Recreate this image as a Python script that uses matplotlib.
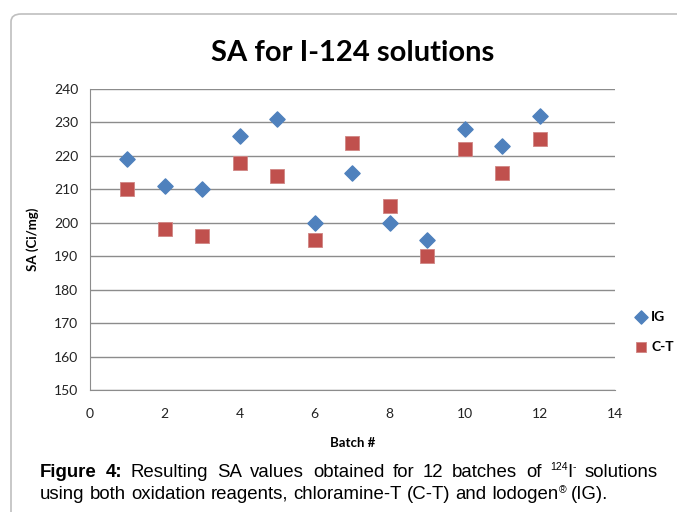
import matplotlib.pyplot as plt
from matplotlib.patches import FancyBboxPatch

# Datos
batch = [1, 2, 3, 4, 5, 6, 7, 8, 9, 10, 11, 12]
sa_ig = [219, 211, 210, 226, 231, 200, 215, 200, 195, 228, 223, 232]
sa_ct = [210, 198, 196, 218, 214, 195, 224, 205, 190, 222, 215, 225]
x_ticks = [0, 2, 4, 6, 8, 10, 12, 14]
y_ticks = list(range(150, 250, 10))

blue = '#4F81BD'
red = '#C0504D'
grid_col = '#8C8C8C'

plt.rcParams['font.family'] = ['Lato', 'DejaVu Sans']

fig = plt.figure(figsize=(6.77, 5.12), dpi=100)

# Marco del grafico (esquinas redondeadas, se sale por derecha y abajo)
frame = FancyBboxPatch((11 / 677, -0.05), 1.0, (512 - 14) / 512 + 0.05,
                       boxstyle='round,pad=0,rounding_size=0.015',
                       transform=fig.transFigure, facecolor='none',
                       edgecolor='#BFBFBF', linewidth=1.2)
fig.patches.append(frame)

ax = fig.add_axes([89.5 / 677, (512 - 390) / 512, (615 - 89.5) / 677, (390 - 89) / 512])

ax.scatter(batch, sa_ig, marker='D', s=60, color=blue, label='IG', zorder=3)
ax.scatter(batch, sa_ct, marker='s', s=105, color=red, edgecolor='#D08684',
           linewidth=0.6, label='C-T', zorder=3)

ax.set_xlim(0, 14)
ax.set_ylim(150, 240)
ax.set_xticks(x_ticks)
ax.set_yticks(y_ticks)
ax.tick_params(length=0, labelsize=10, colors='#222222', pad=8)
ax.tick_params(axis='x', pad=13)
ax.grid(axis='y', color=grid_col, linewidth=1)
ax.set_axisbelow(True)
for s in ['top', 'right']:
    ax.spines[s].set_visible(False)
for s in ['left', 'bottom']:
    ax.spines[s].set_color(grid_col)

ax.set_title('SA for I-124 solutions', fontsize=21, fontweight='bold', pad=20)
ax.set_xlabel('Batch #', fontsize=9.5, fontweight='bold', labelpad=12)
ax.set_ylabel('SA (Ci/mg)', fontsize=9.5, fontweight='bold', labelpad=11)

leg = ax.legend(loc='center left', bbox_to_anchor=(633 / 677, 1 - 332 / 512),
                bbox_transform=fig.transFigure, frameon=False,
                prop={'weight': 'bold', 'size': 10}, handletextpad=0.1,
                labelspacing=1.3, handlelength=1.2, markerscale=0.55,
                borderaxespad=0, borderpad=0)
leg.legend_handles[0].set_sizes([45])
leg.legend_handles[1].set_sizes([60])

# Pie de figura justificado, colocado pieza a pieza
fig.canvas.draw()
renderer = fig.canvas.get_renderer()
FS = 13.4
SUP = 7.5


def draw_piece(x_px, y_px, txt, size, weight, dy):
    t = fig.text(x_px / 677, 1 - (y_px + dy) / 512, txt, fontsize=size,
                 family='Liberation Sans', fontweight=weight, va='baseline')
    return t.get_window_extent(renderer).width


def piece_width(txt, size, weight):
    t = fig.text(0, 0, txt, fontsize=size, family='Liberation Sans', fontweight=weight)
    w = t.get_window_extent(renderer).width
    t.remove()
    return w


def draw_line(groups, y_px, x0, x1=None):
    widths = [sum(piece_width(p[0], p[1], p[2]) for p in g) for g in groups]
    space = piece_width('a a', FS, 'normal') - piece_width('aa', FS, 'normal')
    if x1 is not None:
        space = (x1 - x0 - sum(widths)) / (len(groups) - 1)
    x = x0
    for g, w in zip(groups, widths):
        xx = x
        for txt, size, weight, dy in g:
            xx += draw_piece(xx, y_px, txt, size, weight, dy)
        x += w + space


def words(s, weight='normal'):
    return [[(w, FS, weight, 0)] for w in s.split()]


line1 = (words('Figure 4:', 'bold')
         + words('Resulting SA values obtained for 12 batches of')
         + [[('124', SUP, 'normal', -7), ('I', FS, 'normal', 0), ('-', SUP, 'normal', -7)]]
         + words('solutions'))
line2 = (words('using both oxidation reagents, chloramine-T (C-T) and')
         + [[('Iodogen', FS, 'normal', 0), ('®', SUP, 'normal', -6)]]
         + words('(IG).'))

draw_line(line1, 477, 40, 658)
draw_line(line2, 499, 40)

plt.savefig('out.png', dpi=100)
